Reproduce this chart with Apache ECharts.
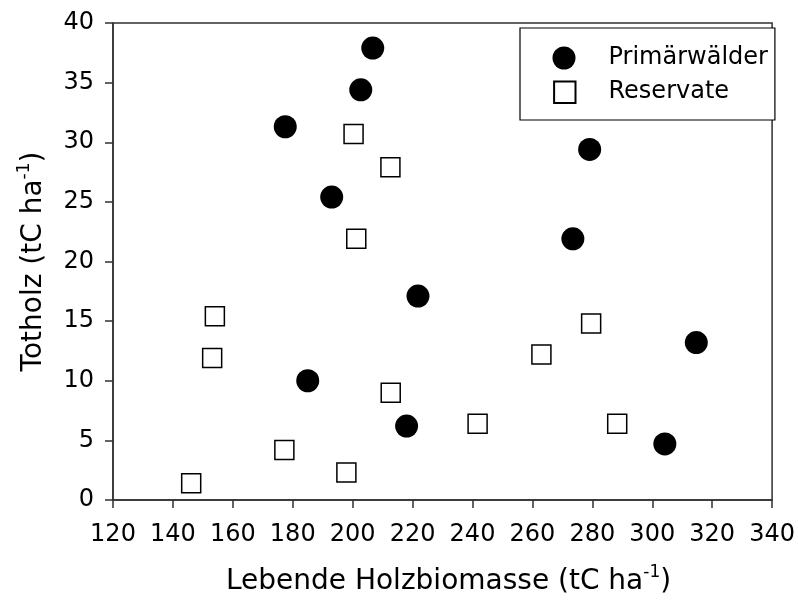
<!DOCTYPE html>
<html>
<head>
<meta charset="utf-8">
<script src="https://cdn.jsdelivr.net/npm/echarts@6/dist/echarts.min.js"></script>
<style>
  html, body { margin: 0; padding: 0; background: #fff; }
  #chart { width: 798px; height: 601px; }
</style>
</head>
<body>
<div id="chart"></div>
<script>
// Data
const primaerX = [206.7, 202.7, 177.5, 193.0, 279.1, 273.5, 221.8, 185.0, 218.0, 304.2, 314.7];
const primaerY = [37.9, 34.4, 31.3, 25.4, 29.4, 21.9, 17.1, 10.0, 6.2, 4.7, 13.2];
const reservX = [200.3, 212.6, 201.2, 154.0, 153.1, 146.1, 177.2, 197.9, 212.7, 241.7, 263.0, 279.6, 288.3];
const reservY = [30.7, 27.9, 21.9, 15.4, 11.9, 1.4, 4.2, 2.3, 9.0, 6.4, 12.2, 14.8, 6.4];
const seriesNames = ['Primärwälder', 'Reservate'];
const xTitle = 'Lebende Holzbiomasse (tC ha{sup|-1})';
const yTitle = 'Totholz (tC ha{sup|-1})';

const FONT = 'DejaVu Sans';
const AXIS_COLOR = '#303030';

const zip = (xs, ys) => xs.map((x, i) => [x, ys[i]]);

const chart = echarts.init(document.getElementById('chart'), null, { renderer: 'canvas' });

const axisCommon = {
  axisLine: { show: true, lineStyle: { color: AXIS_COLOR, width: 1.5 } },
  axisTick: { show: true, inside: false, length: 8, lineStyle: { color: AXIS_COLOR, width: 1.5 } },
  splitLine: { show: false },
  axisLabel: { color: '#000', fontFamily: FONT, fontSize: 24 },
};

const supRich = {
  sup: { fontFamily: FONT, fontSize: 17, color: '#000', padding: [0, 0, 18, 0] }
};

chart.setOption({
  animation: false,
  backgroundColor: '#fff',
  grid: {
    left: 113, right: 23, top: 23, bottom: 101,
    show: true, borderColor: AXIS_COLOR, borderWidth: 1.5, backgroundColor: 'transparent'
  },
  xAxis: Object.assign({}, axisCommon, {
    type: 'value', min: 120, max: 340, interval: 20,
    axisLabel: Object.assign({}, axisCommon.axisLabel, { margin: 23 }),
    name: xTitle, nameLocation: 'middle', nameGap: 64,
    nameTextStyle: { color: '#000', fontFamily: FONT, fontSize: 28, rich: supRich, padding: [0, 0, 0, 12] }
  }),
  yAxis: Object.assign({}, axisCommon, {
    type: 'value', min: 0, max: 40, interval: 5,
    axisLabel: Object.assign({}, axisCommon.axisLabel, { margin: 19 }),
    name: yTitle, nameLocation: 'middle', nameGap: 62,
    nameTextStyle: { color: '#000', fontFamily: FONT, fontSize: 28, rich: supRich }
  }),
  legend: {
    orient: 'vertical',
    left: 520, top: 28,
    padding: [18, 7, 16, 31.5],
    itemWidth: 23, itemHeight: 23, itemGap: 9,
    borderColor: '#000', borderWidth: 1.2, backgroundColor: '#fff',
    textStyle: { color: '#000', fontFamily: FONT, fontSize: 24, lineHeight: 23, padding: [0, 0, 0, 28] },
    data: [
      { name: seriesNames[0], icon: 'circle' },
      { name: seriesNames[1], icon: 'path://M0,0M1.5,1.5L21.5,1.5L21.5,21.5L1.5,21.5Z' }
    ]
  },
  series: [
    {
      name: seriesNames[0], type: 'scatter', symbol: 'circle', symbolSize: 23,
      itemStyle: { color: '#000', opacity: 1 },
      data: zip(primaerX, primaerY), z: 3
    },
    {
      name: seriesNames[1], type: 'scatter', symbol: 'rect', symbolSize: 19,
      itemStyle: { color: '#fff', borderColor: '#000', borderWidth: 1.5, opacity: 1 },
      data: zip(reservX, reservY), z: 2
    }
  ]
});
</script>
</body>
</html>
